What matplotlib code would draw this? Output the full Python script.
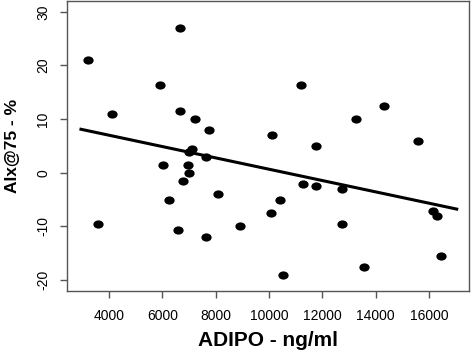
import matplotlib
matplotlib.use("Agg")
import matplotlib.pyplot as plt
from matplotlib.path import Path
import numpy as np

adipo = [3213, 4125, 3600, 5900, 6650, 6650, 7215, 7750, 7100, 7000, 7640, 6040,
         6950, 6990, 6790, 6260, 8100, 6600, 7650, 8910, 11290, 11775, 12730, 10425,
         10090, 12730, 10510, 13575, 16450, 16160, 16290, 11210, 14320, 13275, 10100,
         11775, 15590]
aix = [21.0, 10.9, -9.5, 16.4, 27.0, 11.5, 10.0, 8.0, 4.5, 3.9, 3.0, 1.5,
       1.5, -0.1, -1.5, -5.1, -4.0, -10.6, -12.0, -10.0, -2.1, -2.5, -3.0, -5.1,
       -7.6, -9.5, -19.1, -17.6, -15.5, -7.1, -8.0, 16.4, 12.4, 10.0, 7.0,
       5.0, 5.9]

fit_intercept = 11.22
fit_slope = -0.001057
fit_range = [2950, 17040]

xticks = [4000, 6000, 8000, 10000, 12000, 14000, 16000]
yticks = [-20, -10, 0, 10, 20, 30]

plt.rcParams['font.family'] = ['Liberation Sans', 'DejaVu Sans']

circ = Path.unit_circle()
ell = Path(circ.vertices * np.array([1.25, 1.0]), circ.codes)

fig = plt.figure(figsize=(4.72, 3.5), dpi=100)
ax = fig.add_axes([67/472, 59/350, (469-67)/472, (349-59)/350])

ax.plot(adipo, aix, linestyle='none', marker=ell, markersize=7.4,
        color='black', markeredgewidth=0, zorder=3)
fx = np.array(fit_range, dtype=float)
ax.plot(fx, fit_intercept + fit_slope * fx, color='black', lw=2.2, zorder=2)

ax.set_xlim(2426, 17500)
ax.set_ylim(-22.07, 32.03)
ax.set_xticks(xticks)
ax.set_yticks(yticks)
ax.set_xticklabels([str(v) for v in xticks], fontsize=10)
ax.set_yticklabels([str(v) for v in yticks], fontsize=10, rotation=90, va='center')
for s in ax.spines.values():
    s.set_color('#555555')
    s.set_linewidth(1.0)
ax.tick_params(direction='out', length=5, width=1, color='#555555', pad=7)
ax.tick_params(axis='x', pad=8)

ax.set_xlabel('ADIPO - ng/ml', fontsize=15, fontweight='bold', labelpad=6)
ax.set_ylabel('AIx@75 - %', fontsize=12.5, fontweight='bold', labelpad=12)

fig.savefig('out.png', dpi=100)
